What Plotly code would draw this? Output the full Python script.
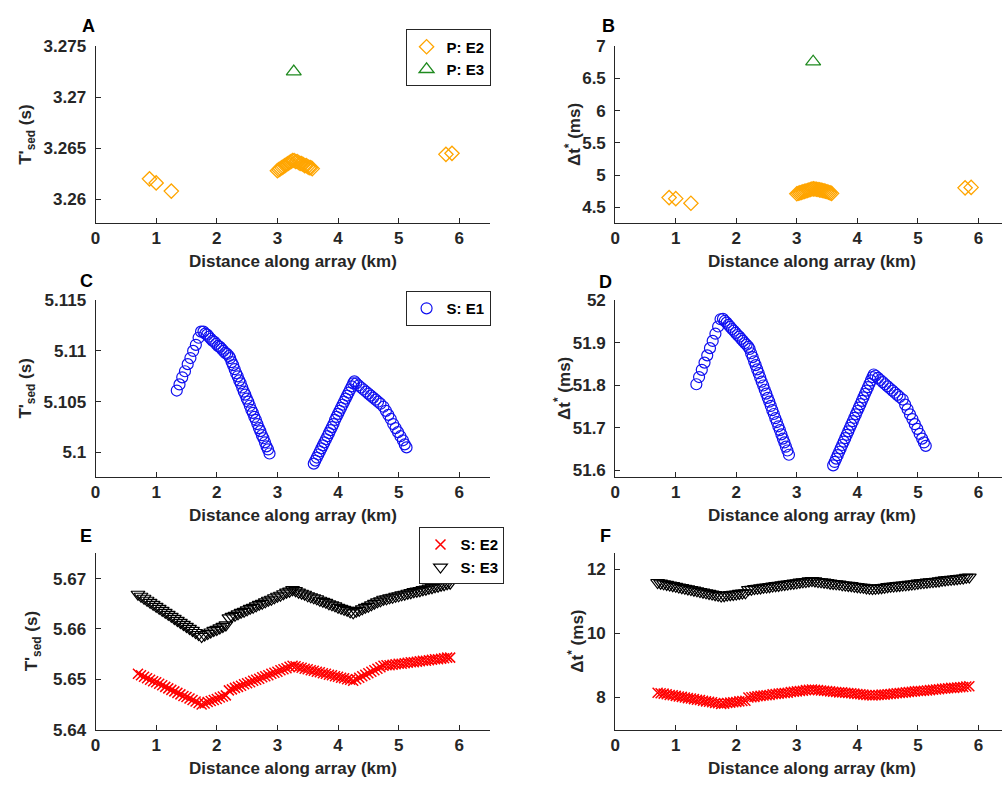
import plotly.graph_objects as go

W, H = 1002, 794
FONT = "Liberation Sans"
AX = "#262626"

# ---------------- Panels A/B : P-wave ----------------
p_e2_x = [0.89, 1.00, 1.25,
          3.000, 3.025, 3.050, 3.075, 3.100, 3.125, 3.150, 3.175, 3.200, 3.225, 3.250, 3.275,
          3.300, 3.325, 3.350, 3.375, 3.400, 3.425, 3.450, 3.475, 3.500, 3.525, 3.550, 3.575,
          5.78, 5.88]
p_e2_T = [3.2620, 3.2616, 3.2608,
          3.2628, 3.2629, 3.2630, 3.2631, 3.2632, 3.2633, 3.2634, 3.2635, 3.2636, 3.2637, 3.2638, 3.2638,
          3.2637, 3.2637, 3.2636, 3.2635, 3.2635, 3.2634, 3.2633, 3.2633, 3.2632, 3.2631, 3.2631, 3.2630,
          3.2644, 3.2645]
p_e2_dt = [4.652, 4.636, 4.565,
           4.712, 4.719, 4.726, 4.733, 4.740, 4.748, 4.755, 4.762, 4.770, 4.778, 4.786, 4.788,
           4.785, 4.781, 4.777, 4.772, 4.767, 4.762, 4.756, 4.750, 4.743, 4.735, 4.726, 4.717,
           4.803, 4.810]
p_e3_x = [3.27]
p_e3_T = [3.2725]
p_e3_dt = [6.758]

# ---------------- Panels C/D : S-wave E1 ----------------
s_e1_x = [1.34, 1.385, 1.43, 1.475, 1.52, 1.565, 1.61, 1.655, 1.70, 1.74,
          1.78, 1.81, 1.84, 1.87, 1.90, 1.93, 1.96, 1.99, 2.02, 2.05, 2.08, 2.11, 2.14, 2.17, 2.20, 2.22,
          2.245, 2.27, 2.295, 2.32, 2.345, 2.37, 2.395, 2.42, 2.445, 2.47, 2.495, 2.52, 2.545, 2.57,
          2.595, 2.62, 2.645, 2.67, 2.695, 2.72, 2.745, 2.77, 2.795, 2.82, 2.845, 2.87,
          3.600, 3.625, 3.650, 3.675, 3.700, 3.725, 3.750, 3.775, 3.800, 3.825, 3.850, 3.875, 3.900, 3.925,
          3.950, 3.975, 4.000, 4.025, 4.050, 4.075, 4.100, 4.125, 4.150, 4.175, 4.200, 4.225, 4.250, 4.27,
          4.30, 4.34, 4.38, 4.42, 4.46, 4.50, 4.54, 4.58, 4.62, 4.66, 4.70, 4.75,
          4.79, 4.83, 4.87, 4.91, 4.95, 4.99, 5.03, 5.07, 5.10, 5.13]
s_e1_T = [5.1061, 5.1067, 5.1074, 5.1080, 5.1087, 5.1093, 5.1100, 5.1106, 5.1113, 5.1119,
          5.1119, 5.1117, 5.1116, 5.1114, 5.1112, 5.1110, 5.1109, 5.1107, 5.1105, 5.1104, 5.1102, 5.1100,
          5.1098, 5.1097, 5.1095, 5.1093,
          5.1089, 5.1086, 5.1082, 5.1078, 5.1075, 5.1071, 5.1068, 5.1064, 5.1060, 5.1057, 5.1053, 5.1050,
          5.1046, 5.1042, 5.1039, 5.1035, 5.1032, 5.1028, 5.1024, 5.1021, 5.1017, 5.1014, 5.1010, 5.1006,
          5.1003, 5.0999,
          5.0989, 5.0992, 5.0995, 5.0998, 5.1001, 5.1004, 5.1007, 5.1010, 5.1013, 5.1016, 5.1019, 5.1022,
          5.1025, 5.1028, 5.1032, 5.1035, 5.1038, 5.1041, 5.1044, 5.1047, 5.1050, 5.1053, 5.1056, 5.1059,
          5.1062, 5.1065, 5.1068, 5.1070,
          5.1068, 5.1066, 5.1064, 5.1062, 5.1060, 5.1058, 5.1056, 5.1054, 5.1052, 5.1050, 5.1048, 5.1045,
          5.1041, 5.1037, 5.1033, 5.1028, 5.1024, 5.1020, 5.1016, 5.1012, 5.1008, 5.1005]
s_e1_dt = [51.802, 51.819, 51.836, 51.853, 51.870, 51.887, 51.904, 51.921, 51.938, 51.955,
           51.956, 51.951, 51.947, 51.942, 51.937, 51.932, 51.928, 51.923, 51.918, 51.914, 51.909, 51.904,
           51.899, 51.895, 51.890, 51.885,
           51.875, 51.866, 51.856, 51.847, 51.837, 51.828, 51.818, 51.808, 51.799, 51.789, 51.780, 51.770,
           51.761, 51.751, 51.741, 51.732, 51.722, 51.713, 51.703, 51.694, 51.684, 51.674, 51.665, 51.655,
           51.646, 51.636,
           51.611, 51.619, 51.627, 51.635, 51.643, 51.651, 51.659, 51.667, 51.675, 51.683, 51.691, 51.699,
           51.707, 51.715, 51.723, 51.731, 51.739, 51.747, 51.755, 51.763, 51.771, 51.779, 51.787, 51.795,
           51.803, 51.811, 51.819, 51.825,
           51.822, 51.817, 51.812, 51.807, 51.802, 51.797, 51.792, 51.787, 51.782, 51.777, 51.772, 51.766,
           51.754, 51.743, 51.731, 51.720, 51.708, 51.697, 51.685, 51.674, 51.665, 51.657]

# ---------------- Panels E/F : S-wave E2 / E3 ----------------
s_x = [0.70, 0.75, 0.80, 0.85, 0.90, 0.95, 1.00, 1.05, 1.10, 1.15, 1.20, 1.25, 1.30, 1.35, 1.40, 1.45,
       1.50, 1.55, 1.60, 1.65, 1.70, 1.75,
       1.80, 1.85, 1.90, 1.95, 2.00, 2.05, 2.10, 2.15,
       2.20, 2.25, 2.30, 2.35, 2.40, 2.45, 2.50, 2.55, 2.60, 2.65, 2.70, 2.75, 2.80, 2.85, 2.90, 2.95,
       3.00, 3.05, 3.10, 3.15, 3.20, 3.25,
       3.30, 3.35, 3.40, 3.45, 3.50, 3.55, 3.60, 3.65, 3.70, 3.75, 3.80, 3.85, 3.90, 3.95, 4.00, 4.05,
       4.10, 4.15, 4.20, 4.25,
       4.30, 4.35, 4.40, 4.45, 4.50, 4.55, 4.60, 4.65, 4.70, 4.75,
       4.80, 4.85, 4.90, 4.95, 5.00, 5.05, 5.10, 5.15, 5.20, 5.25, 5.30, 5.35, 5.40, 5.45, 5.50, 5.55,
       5.60, 5.65, 5.70, 5.75, 5.80, 5.85]
s_e2_T = [5.6511, 5.6508, 5.6505, 5.6502, 5.6499, 5.6496, 5.6494, 5.6491, 5.6488, 5.6485, 5.6482, 5.6479,
          5.6476, 5.6473, 5.6470, 5.6467, 5.6465, 5.6462, 5.6459, 5.6456, 5.6453, 5.6450,
          5.6452, 5.6455, 5.6457, 5.6459, 5.6461, 5.6464, 5.6466, 5.6468,
          5.6478, 5.6480, 5.6483, 5.6485, 5.6487, 5.6490, 5.6492, 5.6494, 5.6497, 5.6499, 5.6501, 5.6504,
          5.6506, 5.6508, 5.6511, 5.6513, 5.6515, 5.6518, 5.6520, 5.6522, 5.6525, 5.6527,
          5.6526, 5.6524, 5.6523, 5.6521, 5.6520, 5.6518, 5.6517, 5.6515, 5.6514, 5.6512, 5.6511, 5.6509,
          5.6508, 5.6506, 5.6505, 5.6503, 5.6502, 5.6500, 5.6499, 5.6497,
          5.6500, 5.6503, 5.6506, 5.6509, 5.6512, 5.6515, 5.6518, 5.6521, 5.6524, 5.6527,
          5.6528, 5.6528, 5.6529, 5.6530, 5.6531, 5.6531, 5.6532, 5.6533, 5.6534, 5.6534, 5.6535, 5.6536,
          5.6537, 5.6537, 5.6538, 5.6539, 5.6540, 5.6540, 5.6541, 5.6542, 5.6543, 5.6543]
s_e3_T = [5.6669, 5.6665, 5.6661, 5.6657, 5.6653, 5.6649, 5.6645, 5.6641, 5.6637, 5.6633, 5.6629, 5.6625,
          5.6621, 5.6617, 5.6613, 5.6609, 5.6605, 5.6601, 5.6597, 5.6593, 5.6589, 5.6585,
          5.6588, 5.6591, 5.6594, 5.6597, 5.6599, 5.6602, 5.6605, 5.6608,
          5.6622, 5.6625, 5.6627, 5.6630, 5.6633, 5.6635, 5.6638, 5.6641, 5.6643, 5.6646, 5.6649, 5.6651,
          5.6654, 5.6657, 5.6659, 5.6662, 5.6665, 5.6667, 5.6670, 5.6673, 5.6675, 5.6678,
          5.6676, 5.6673, 5.6671, 5.6669, 5.6666, 5.6664, 5.6662, 5.6660, 5.6657, 5.6655, 5.6653, 5.6650,
          5.6648, 5.6646, 5.6643, 5.6641, 5.6639, 5.6637, 5.6634, 5.6632,
          5.6635, 5.6637, 5.6640, 5.6643, 5.6645, 5.6648, 5.6651, 5.6654, 5.6656, 5.6659,
          5.6660, 5.6662, 5.6663, 5.6665, 5.6666, 5.6668, 5.6669, 5.6671, 5.6672, 5.6674, 5.6675, 5.6676,
          5.6678, 5.6679, 5.6681, 5.6682, 5.6684, 5.6685, 5.6687, 5.6688, 5.6690, 5.6691]
s_e2_dt = [8.15, 8.13, 8.12, 8.10, 8.08, 8.07, 8.05, 8.03, 8.02, 8.00, 7.98, 7.97, 7.95, 7.93, 7.92, 7.90,
           7.88, 7.87, 7.85, 7.83, 7.82, 7.80,
           7.81, 7.83, 7.84, 7.85, 7.86, 7.88, 7.89, 7.90,
           8.00, 8.01, 8.02, 8.04, 8.05, 8.06, 8.07, 8.08, 8.10, 8.11, 8.12, 8.13, 8.14, 8.15, 8.17, 8.18,
           8.19, 8.20, 8.21, 8.23, 8.24, 8.25,
           8.24, 8.23, 8.22, 8.21, 8.20, 8.19, 8.18, 8.17, 8.16, 8.16, 8.15, 8.14, 8.13, 8.12, 8.11, 8.10,
           8.09, 8.08, 8.07, 8.06,
           8.07, 8.08, 8.09, 8.09, 8.10, 8.11, 8.12, 8.13, 8.14, 8.15,
           8.16, 8.17, 8.18, 8.19, 8.20, 8.20, 8.21, 8.22, 8.23, 8.24, 8.25, 8.26, 8.27, 8.28, 8.29, 8.30,
           8.30, 8.31, 8.32, 8.33, 8.34, 8.35]
s_e3_dt = [11.58, 11.56, 11.54, 11.52, 11.50, 11.48, 11.46, 11.44, 11.42, 11.40, 11.38, 11.36, 11.34, 11.32,
           11.30, 11.28, 11.26, 11.24, 11.22, 11.20, 11.18, 11.16,
           11.17, 11.19, 11.20, 11.21, 11.22, 11.24, 11.25, 11.26,
           11.36, 11.37, 11.39, 11.40, 11.41, 11.43, 11.44, 11.45, 11.47, 11.48, 11.49, 11.51, 11.52, 11.53,
           11.55, 11.56, 11.57, 11.59, 11.60, 11.61, 11.63, 11.64,
           11.63, 11.61, 11.60, 11.59, 11.58, 11.56, 11.55, 11.54, 11.53, 11.51, 11.50, 11.49, 11.48, 11.46,
           11.45, 11.44, 11.43, 11.41, 11.40, 11.39,
           11.40, 11.41, 11.42, 11.43, 11.45, 11.46, 11.47, 11.48, 11.49, 11.50,
           11.51, 11.52, 11.53, 11.54, 11.56, 11.57, 11.58, 11.59, 11.60, 11.61, 11.62, 11.63, 11.65, 11.66,
           11.67, 11.68, 11.69, 11.70, 11.71, 11.72, 11.74, 11.75]

# ---------------- tick labels ----------------
x_ticks = [0, 1, 2, 3, 4, 5, 6]
x_tick_text = ["0", "1", "2", "3", "4", "5", "6"]
yA_ticks = [3.26, 3.265, 3.27, 3.275]
yA_text = ["3.26", "3.265", "3.27", "3.275"]
yB_ticks = [4.5, 5, 5.5, 6, 6.5, 7]
yB_text = ["4.5", "5", "5.5", "6", "6.5", "7"]
yC_ticks = [5.1, 5.105, 5.11, 5.115]
yC_text = ["5.1", "5.105", "5.11", "5.115"]
yD_ticks = [51.6, 51.7, 51.8, 51.9, 52]
yD_text = ["51.6", "51.7", "51.8", "51.9", "52"]
yE_ticks = [5.64, 5.65, 5.66, 5.67]
yE_text = ["5.64", "5.65", "5.66", "5.67"]
yF_ticks = [8, 10, 12]
yF_text = ["8", "10", "12"]

ORANGE = "#FFA500"
GREEN = "#1F8A1F"
BLUE = "#1010F0"
RED = "#FF0000"
BLACK = "#000000"

fig = go.Figure()


def add(x, y, n, name, symbol, color, size, legend=None, show=False, lw=1.0):
    fig.add_trace(go.Scatter(
        x=x, y=y, mode="markers", name=name,
        xaxis="x" if n == 1 else f"x{n}", yaxis="y" if n == 1 else f"y{n}",
        marker=dict(symbol=symbol, size=size, color=color, line=dict(color=color, width=lw)),
        showlegend=show, legend=legend if legend else "legend",
    ))


add(p_e2_x, p_e2_T, 1, "P: E2", "diamond-open", ORANGE, 11, "legend", True, 1.3)
add(p_e3_x, p_e3_T, 1, "P: E3", "triangle-up-open", GREEN, 13, "legend", True, 1.3)
add(p_e2_x, p_e2_dt, 2, "P: E2", "diamond-open", ORANGE, 11, None, False, 1.3)
add(p_e3_x, p_e3_dt, 2, "P: E3", "triangle-up-open", GREEN, 13, None, False, 1.3)
add(s_e1_x, s_e1_T, 3, "S: E1", "circle-open", BLUE, 11, "legend2", True, 1.2)
add(s_e1_x, s_e1_dt, 4, "S: E1", "circle-open", BLUE, 11, None, False, 1.2)
add(s_x, s_e2_T, 5, "S: E2", "x-thin-open", RED, 10, "legend3", True, 1.5)
add(s_x, s_e3_T, 5, "S: E3", "triangle-down-open", BLACK, 12, "legend3", True, 1.2)
add(s_x, s_e2_dt, 6, "S: E2", "x-thin-open", RED, 10, None, False, 1.5)
add(s_x, s_e3_dt, 6, "S: E3", "triangle-down-open", BLACK, 12, None, False, 1.2)

# geometry (pixels -> paper)
LX = [91 / W, 487 / W]
RX = [613.3 / W, 1.0]
ROWS = [(38, 219), (298.3, 479.3), (557.3, 738.3)]
YD = [[1 - b / H, 1 - t / H] for t, b in ROWS]

tickfont = dict(family=FONT, size=17, color=AX, weight="bold")


def xaxis(domain, rng, anchor):
    return dict(domain=domain, range=rng, anchor=anchor, showline=True, linecolor=AX, linewidth=1,
                ticks="inside", ticklen=5, tickcolor=AX, tickvals=x_ticks, ticktext=x_tick_text,
                tickfont=tickfont, showgrid=False, zeroline=False, fixedrange=True)


def yaxis(domain, rng, anchor, tv, tt):
    return dict(domain=domain, range=rng, anchor=anchor, showline=True, linecolor=AX, linewidth=1,
                ticks="inside", ticklen=5, tickcolor=AX, tickvals=tv, ticktext=tt,
                tickfont=tickfont, showgrid=False, zeroline=False, fixedrange=True,
                ticklabelstandoff=5)


RX_MAX = (W - 613.3) / 60.83

legend_common = dict(bgcolor="white", bordercolor=AX, borderwidth=1,
                     font=dict(family=FONT, size=15, color="#000000", weight="bold"),
                     xanchor="right", yanchor="top", itemwidth=30, tracegroupgap=0)

fig.update_layout(
    width=W, height=H, margin=dict(l=0, r=0, t=0, b=0),
    paper_bgcolor="white", plot_bgcolor="white",
    font=dict(family=FONT, color=AX),
    xaxis=xaxis(LX, [0, 6.5], "y"),
    yaxis=yaxis(YD[0], [3.2577, 3.275], "x", yA_ticks, yA_text),
    xaxis2=xaxis(RX, [0, RX_MAX], "y2"),
    yaxis2=yaxis(YD[0], [4.262, 7], "x2", yB_ticks, yB_text),
    xaxis3=xaxis(LX, [0, 6.5], "y3"),
    yaxis3=yaxis(YD[1], [5.0976, 5.115], "x3", yC_ticks, yC_text),
    xaxis4=xaxis(RX, [0, RX_MAX], "y4"),
    yaxis4=yaxis(YD[1], [51.584, 52], "x4", yD_ticks, yD_text),
    xaxis5=xaxis(LX, [0, 6.5], "y5"),
    yaxis5=yaxis(YD[2], [5.64, 5.6751], "x5", yE_ticks, yE_text),
    xaxis6=xaxis(RX, [0, RX_MAX], "y6"),
    yaxis6=yaxis(YD[2], [7, 12.5], "x6", yF_ticks, yF_text),
    legend=dict(x=488 / W, y=1 - 21 / H, **legend_common),
    legend2=dict(x=488 / W, y=1 - 289 / H, **legend_common),
    legend3=dict(x=502 / W, y=1 - 531 / H, **legend_common),
)


def ann(text, px, py, size, angle=0):
    fig.add_annotation(text=text, x=px / W, y=1 - py / H, xref="paper", yref="paper",
                       xanchor="center", yanchor="middle", showarrow=False, textangle=angle,
                       font=dict(family=FONT, size=size, color=AX))


# panel letters
for letter, px, py in [("A", 84, 17), ("B", 607, 17), ("C", 82, 279),
                       ("D", 604, 280), ("E", 81, 540), ("F", 604, 540)]:
    fig.add_annotation(text=f"<b>{letter}</b>", x=px / W, y=1 - py / H, xref="paper", yref="paper",
                       xanchor="center", yanchor="middle", showarrow=False,
                       font=dict(family=FONT, size=18, color="#000000"))

xt = "<b>Distance along array (km)</b>"
for px, py in [(289, 259), (811, 259), (289, 519), (811, 519), (289, 778), (811, 778)]:
    ann(xt, px, py, 17)

yt_T = "<b>T'<sub>sed</sub> (s)</b>"
yt_dt = "<b>\u0394t<sup>*</sup> (ms)</b>"
for (px, py), t in [((22, 129), yt_T), ((571, 129), yt_dt), ((22, 389), yt_T),
                    ((560, 389), yt_dt), ((29, 648), yt_T), ((574, 648), yt_dt)]:
    ann(t, px, py, 17, -90)

fig.write_html("out.html")
